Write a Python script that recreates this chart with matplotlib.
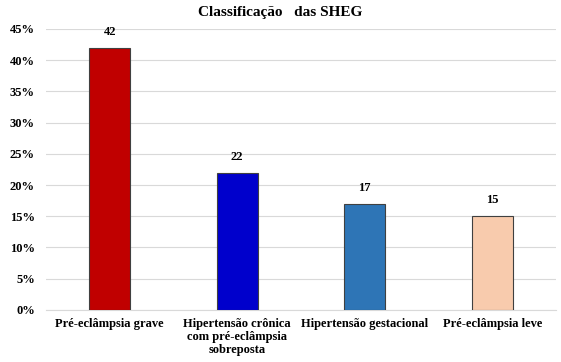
import numpy as np
import matplotlib.pyplot as plt

categories = ['Pré-eclâmpsia grave', 'Hipertensão crônica\ncom pré-eclâmpsia\nsobreposta',
              'Hipertensão gestacional', 'Pré-eclâmpsia leve']
values = [42, 22, 17, 15]
colors = ['#C00000', '#0000CC', '#2E75B6', '#F8CBAD']

plt.rcParams['font.family'] = ['Liberation Serif', 'DejaVu Serif']
plt.rcParams['font.weight'] = 'bold'

fig = plt.figure(figsize=(5.61, 3.62), dpi=100)
ax = fig.add_axes([0.082, 0.144, 0.909, 0.776])

x = np.arange(len(categories))
ax.bar(x, values, width=0.32, color=colors, edgecolor='#404040', linewidth=0.8, zorder=3)
for xi, v in zip(x, values):
    ax.text(xi, v + 1.6, str(v), ha='center', va='bottom', fontsize=9, fontweight='bold')

ax.set_ylim(0, 45)
ax.set_xlim(-0.5, len(categories) - 0.5)
ax.set_yticks(np.arange(0, 46, 5))
ax.set_yticklabels([f'{t}%' for t in range(0, 46, 5)], fontsize=9, fontweight='bold')
ax.set_xticks(x)
ax.set_xticklabels(categories, fontsize=9, fontweight='bold', linespacing=1.1)
ax.tick_params(length=0, pad=8)
ax.tick_params(axis='x', pad=6)
ax.grid(axis='y', color='#D9D9D9', linewidth=0.8, zorder=0)
for s in ['top', 'right', 'left']:
    ax.spines[s].set_visible(False)
ax.spines['bottom'].set_color('#D9D9D9')

fig.text(0.5, 0.965, 'Classificação   das SHEG', ha='center', va='center', fontsize=11, fontweight='bold')

fig.savefig('out.png', dpi=100)
